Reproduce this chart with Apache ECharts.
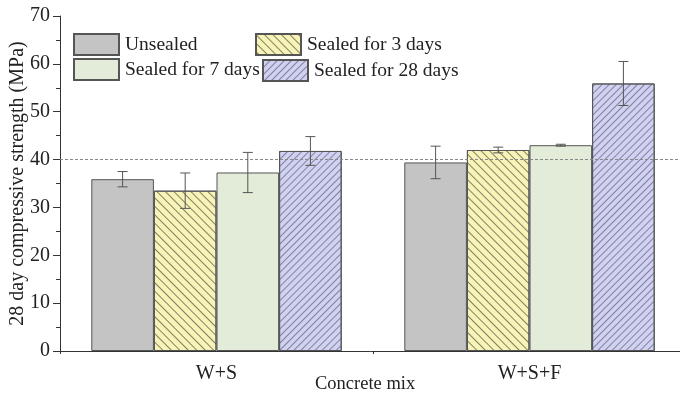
<!DOCTYPE html>
<html>
<head>
<meta charset="utf-8">
<script src="https://cdn.jsdelivr.net/npm/echarts@6/dist/echarts.min.js"></script>
<style>html,body{margin:0;padding:0;background:#fff;}#c{width:680px;height:394px;}</style>
</head>
<body>
<div id="c"></div>
<script>
var categories = ['W+S', 'W+S+F'];
var seriesNames = ['Unsealed', 'Sealed for 3 days', 'Sealed for 7 days', 'Sealed for 28 days'];
var unsealed = [35.9, 39.4];
var unsealedErr = [1.6, 3.4];
var sealed3 = [33.5, 42.0];
var sealed3Err = [3.7, 0.6];
var sealed7 = [37.3, 43.0];
var sealed7Err = [4.2, 0.2];
var sealed28 = [41.8, 55.9];
var sealed28Err = [3.0, 4.6];
var yTicks = [0, 10, 20, 30, 40, 50, 60, 70];
var refLine = 40;

var values = [unsealed, sealed3, sealed7, sealed28];
var errs = [unsealedErr, sealed3Err, sealed7Err, sealed28Err];
var fills = ['#c4c4c4', '#f8f4b8', '#e2ecd9', '#d1d2ef'];
var decals = [
  null,
  {symbol: 'rect', symbolSize: 1, dashArrayX: [1, 0], dashArrayY: [1, 5], rotation: Math.PI / 4, color: 'rgba(90,90,70,0.75)'},
  null,
  {symbol: 'rect', symbolSize: 1, dashArrayX: [1, 0], dashArrayY: [1, 3.5], rotation: -Math.PI / 4, color: 'rgba(100,100,140,0.75)'}
];
var font = 'Liberation Serif';

var series = [];
for (var i = 0; i < 4; i++) {
  var st = {color: fills[i], borderColor: '#555', borderWidth: 1};
  if (decals[i]) st.decal = decals[i];
  var s = {
    name: seriesNames[i], type: 'bar', data: values[i],
    barGap: '0%', barCategoryGap: '20%', itemStyle: st, emphasis: {disabled: true}
  };
  if (i === 0) {
    s.markLine = {
      silent: true, symbol: 'none', label: {show: false},
      lineStyle: {type: [3, 2], color: '#888', width: 1},
      data: [{yAxis: refLine}]
    };
  }
  series.push(s);
}

var errData = [];
for (var i = 0; i < 4; i++) {
  for (var c = 0; c < categories.length; c++) {
    errData.push([c, values[i][c], errs[i][c], i]);
  }
}
series.push({
  type: 'custom', data: errData, z: 10, silent: true,
  renderItem: function (params, api) {
    var c = api.value(0), v = api.value(1), e = api.value(2), si = api.value(3);
    var catW = api.size([1, 0])[0];
    var bw = catW * 0.8 / 4;
    var off = (si - 1.5) * bw;
    var top = api.coord([c, v + e]);
    var bot = api.coord([c, v - e]);
    var x = top[0] + off;
    var cap = 5;
    var ls = {stroke: '#555', lineWidth: 1};
    return {type: 'group', children: [
      {type: 'line', shape: {x1: x, y1: top[1], x2: x, y2: bot[1]}, style: ls},
      {type: 'line', shape: {x1: x - cap, y1: top[1], x2: x + cap, y2: top[1]}, style: ls},
      {type: 'line', shape: {x1: x - cap, y1: bot[1], x2: x + cap, y2: bot[1]}, style: ls}
    ]};
  }
});

var legendPos = [[73, 33], [255, 33], [73, 58], [262, 59]];
var legends = [];
for (var i = 0; i < 4; i++) {
  legends.push({
    orient: 'horizontal', left: legendPos[i][0], top: legendPos[i][1], padding: 0,
    itemWidth: 45, itemHeight: 21, itemGap: 0, icon: 'rect',
    textStyle: {fontFamily: font, fontSize: 19.5, color: '#222', padding: [0, 0, 0, 1]},
    selectedMode: false, data: [seriesNames[i]]
  });
}

var option = {
  animation: false,
  backgroundColor: '#fff',
  textStyle: {fontFamily: font},
  grid: {left: 60, width: 626, top: 16, bottom: 43, containLabel: false, outerBoundsMode: 'none'},
  legend: legends,
  xAxis: [{
    type: 'category', data: categories,
    axisLine: {lineStyle: {color: '#333', width: 1}},
    axisTick: {alignWithLabel: true, length: 7, lineStyle: {color: '#333'}},
    axisLabel: {fontFamily: font, fontSize: 20, color: '#222', margin: 13}
  }, {
    type: 'category', data: categories, position: 'bottom',
    axisLine: {show: false},
    axisTick: {show: true, length: 3, lineStyle: {color: '#333'}},
    axisLabel: {show: false}
  }],
  yAxis: {
    type: 'value', min: 0, max: 70, interval: 10,
    name: '28 day compressive strength (MPa)', nameLocation: 'middle', nameGap: 32, nameMoveOverlap: false,
    nameTextStyle: {fontFamily: font, fontSize: 20, color: '#222'},
    axisLine: {show: true, lineStyle: {color: '#333', width: 1}},
    axisTick: {show: true, length: 7, lineStyle: {color: '#333'}},
    minorTick: {show: true, splitNumber: 2, length: 4, lineStyle: {color: '#333'}},
    splitLine: {show: false},
    axisLabel: {fontFamily: font, fontSize: 20, color: '#222', margin: 10,
      formatter: function (v) { return yTicks.indexOf(v) >= 0 ? String(v) : ''; }}
  },
  graphic: [{
    type: 'text', left: 315, top: 375,
    style: {text: 'Concrete mix', font: '18.5px "Liberation Serif"', fill: '#222'}
  }],
  series: series
};
var chart = echarts.init(document.getElementById('c'), null, {renderer: 'canvas'});
chart.setOption(option);
</script>
</body>
</html>
